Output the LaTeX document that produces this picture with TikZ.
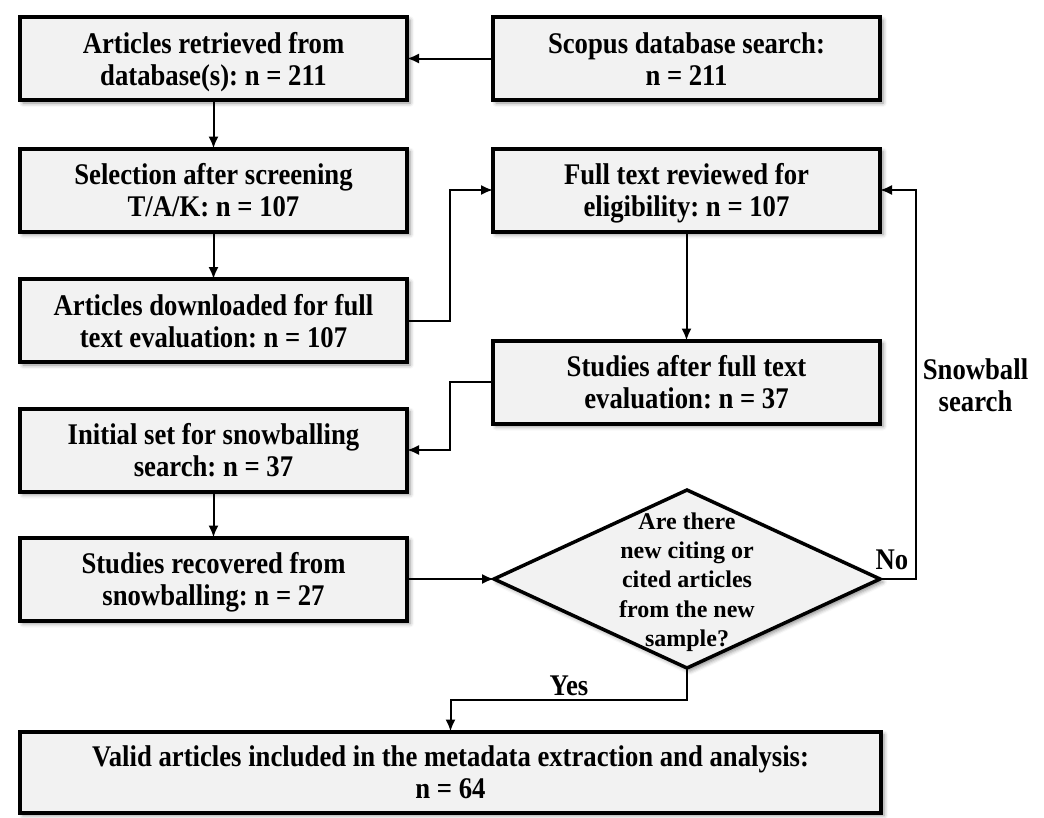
\documentclass[tikz,border=0pt]{standalone}
\usepackage{fontspec}
\setmainfont{Liberation Serif}
\newfontfamily\boxfont{Liberation Serif}[FakeStretch=0.89]
\usetikzlibrary{arrows.meta,shapes.geometric,shadows.blur}
\definecolor{boxfill}{HTML}{F2F2F2}
\frenchspacing
\begin{document}
\begin{tikzpicture}[x=1pt,y=-1pt,
  shad/.style={blur shadow={shadow xshift=3pt, shadow yshift=-3pt, shadow blur radius=4pt, shadow opacity=45}},
  box/.style={draw=black, line width=4pt, fill=boxfill, minimum width=387pt, minimum height=83pt,
    inner sep=0pt, outer sep=0pt, align=center, font=\boxfont\bfseries\fontsize{30}{32}\selectfont,
    text height=53pt, text depth=0pt, shad},
  dia/.style={diamond, draw=black, line width=3.5pt, fill=boxfill, minimum width=386pt, minimum height=178pt,
    inner sep=0pt, outer sep=0pt, shad},
  dtext/.style={align=center, inner sep=0pt, font=\bfseries\fontsize{24}{29.3}\selectfont},
  conn/.style={line width=2pt, -{Latex[length=12pt,width=10pt]}},
  lbl/.style={font=\boxfont\bfseries\fontsize{30}{32}\selectfont, align=center, inner sep=0pt},
]
\useasboundingbox (0,0) rectangle (1044,817);

\node[box] (a1) at (213.5,58.5) {Articles retrieved from\\database(s): n = 211};
\node[box] (scopus) at (686.5,58.5) {Scopus database search:\\n = 211};
\node[box] (sel) at (213.5,190) {Selection after screening\\T/A/K: n = 107};
\node[box] (full) at (686.5,190) {Full text reviewed for\\eligibility: n = 107};
\node[box] (down) at (213.5,320.5) {Articles downloaded for full\\text evaluation: n = 107};
\node[box] (after) at (686.5,382) {Studies after full text\\evaluation: n = 37};
\node[box] (init) at (213.5,450) {Initial set for snowballing\\search: n = 37};
\node[box] (rec) at (213.5,579) {Studies recovered from\\snowballing: n = 27};
\node[dia] (dec) at (687,579) {};
\node[dtext] (dect) at (687,582) {Are there\\new citing or\\cited articles\\from the new\\sample?};
\node[box, minimum width=861pt, minimum height=81pt] (valid) at (450.5,772) {Valid articles included in the metadata extraction and analysis:\\n = 64};

\node[lbl] (no) at (892,560) {No};
\node[lbl] (yes) at (569,686) {Yes};
\node[lbl] (snow) at (975.5,385) {Snowball\\search};

\draw[conn] (scopus.west) -- (a1.east);
\draw[conn] (a1.south) -- (sel.north);
\draw[conn] (sel.south) -- (down.north);
\draw[conn] (down.east) -- ++(43,0) |- (full.west);
\draw[conn] (full.south) -- (after.north);
\draw[conn] (after.west) -- ++(-43,0) |- (init.east);
\draw[conn] (init.south) -- (rec.north);
\draw[conn] (rec.east) -- (dec.west);
\draw[conn] (dec.east) -- (916,579) |- (full.east);
\draw[conn] (dec.south) -- ++(0,32) -| (valid.north);
\end{tikzpicture}
\end{document}
